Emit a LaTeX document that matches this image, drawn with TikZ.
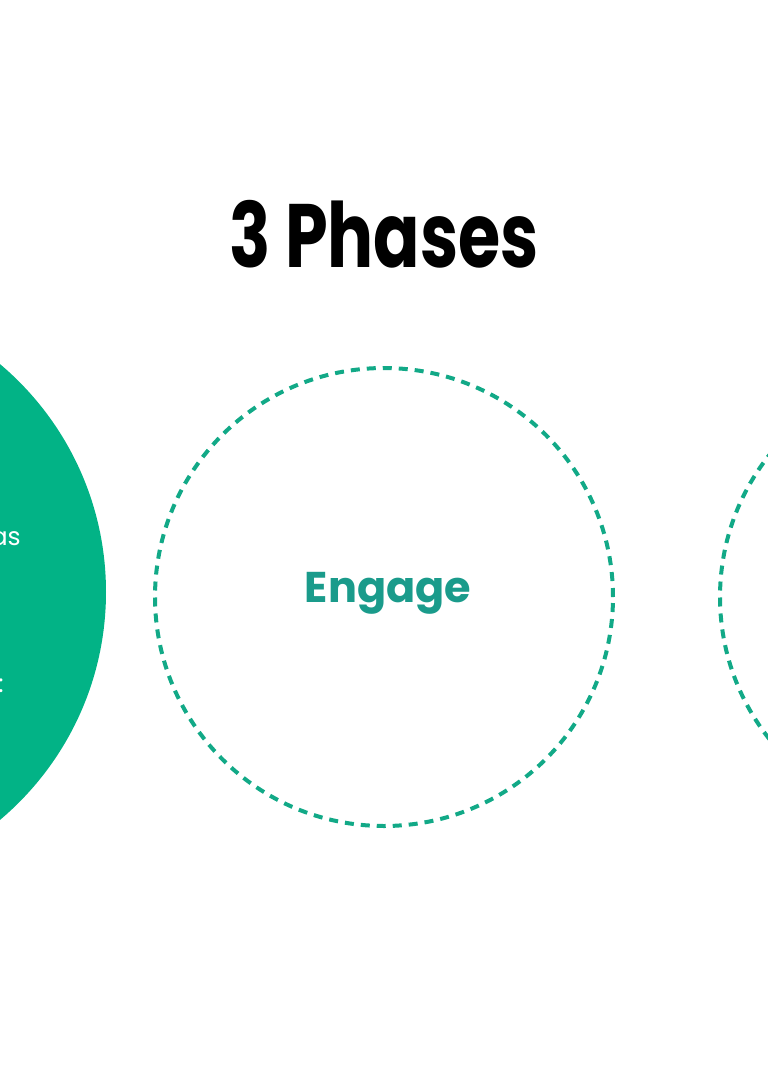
\documentclass[tikz,border=0pt]{standalone}
\usepackage{fontspec}
\setmainfont{Poppins}
\newfontfamily\titlefont{Poppins}[FakeStretch=0.76]
\usepackage{xcolor}
\definecolor{phasefill}{HTML}{02B386}
\definecolor{phasedash}{HTML}{12A987}
\definecolor{phaselabel}{HTML}{1A9B8B}

\begin{document}
\begin{tikzpicture}[x=1pt,y=-1pt,
  phase/.style={circle,inner sep=0pt,minimum size=458pt},
  dashedphase/.style={phase,draw=phasedash,line width=4pt,dash pattern=on 9pt off 7pt},
  blurb/.style={white,inner sep=0pt,font=\fontsize{25}{28}\selectfont}]
  \useasboundingbox (0,0) rectangle (768,1080);
  \clip (0,0) rectangle (768,1080);
  % title
  \node[inner sep=0pt,anchor=base,font=\titlefont\bfseries\fontsize{90}{100}\selectfont] (title) at (384,267) {3 Phases};
  % the three phases
  \node[phase,fill=phasefill,minimum size=596pt] (discover) at (-192,592) {};
  \node[dashedphase] (engage) at (384,597) {};
  \node[dashedphase] (grow) at (949,597) {};
  \node[anchor=base,inner sep=0pt,text=phaselabel,font=\bfseries\fontsize{43}{48}\selectfont] (engagelabel) at (388,602) {Engage};
  % text of the first phase, cut at the edge
  \node[blurb,anchor=base east] (line1) at (21,545) {as};
  \node[blurb,anchor=base east] (line2) at (4,692) {:};
\end{tikzpicture}
\end{document}
